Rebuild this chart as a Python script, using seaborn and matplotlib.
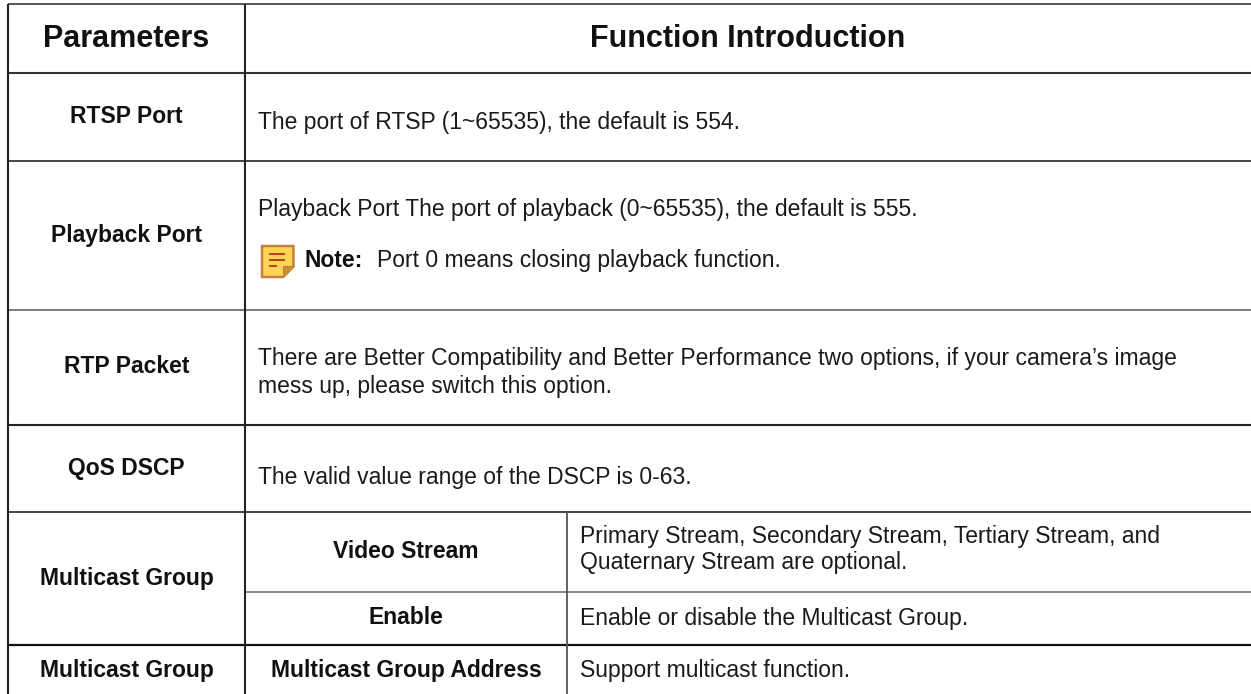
import matplotlib.pyplot as plt
import seaborn as sns
from matplotlib.patches import Polygon, Rectangle

# Table text, column by column
headers = ["Parameters", "Function Introduction"]
param_labels = ["RTSP Port", "Playback Port", "RTP Packet", "QoS DSCP", "Multicast Group", "Multicast Group"]
sub_labels = ["Video Stream", "Enable", "Multicast Group Address"]
sub_texts = [
    "Primary Stream, Secondary Stream, Tertiary Stream, and",
    "Quaternary Stream are optional.",
    "Enable or disable the Multicast Group.",
    "Support multicast function.",
]
body_texts = [
    "The port of RTSP (1~65535), the default is 554.",
    "Playback Port The port of playback (0~65535), the default is 555.",
    "There are Better Compatibility and Better Performance two options, if your camera\u2019s image",
    "mess up, please switch this option.",
    "The valid value range of the DSCP is 0-63.",
]
note_label = "Note:"
note_text = "Port 0 means closing playback function."

# Grid positions in image pixels
col_x = [8, 245, 567]
row_y = [4, 73, 161, 310, 425, 512, 592, 645]
param_y = [116, 235, 366.5, 468, 578, 671]
sub_y = [551, 618, 671]
sub_text_y = [536, 563, 618, 670]
body_y = [122, 209, 358, 386, 477]

sns.set_theme(style="white")
plt.rcParams["font.family"] = ["Liberation Sans", "DejaVu Sans"]

fig = plt.figure(figsize=(12.51, 6.94), dpi=100)
ax = fig.add_axes([0, 0, 1, 1])
ax.set_xlim(0, 1251)
ax.set_ylim(694, 0)
ax.axis("off")

# Horizontal rules
ax.hlines(row_y[0], col_x[0], 1251, color="#555555", lw=1.4)
ax.hlines(row_y[1], col_x[0], 1251, color="#333333", lw=1.5)
ax.hlines(row_y[2], col_x[0], 1251, color="#444444", lw=1.4)
ax.hlines(row_y[3], col_x[0], 1251, color="#666666", lw=1.2)
ax.hlines(row_y[4], col_x[0], 1251, color="#222222", lw=1.5)
ax.hlines(row_y[5], col_x[0], 1251, color="#444444", lw=1.4)
ax.hlines(row_y[6], col_x[1], 1251, color="#777777", lw=1.2)
ax.hlines(row_y[7], col_x[0], 1251, color="#111111", lw=1.6)

# Vertical rules
ax.vlines(col_x[0], row_y[0], 694, color="#222222", lw=1.5)
ax.vlines(col_x[1], row_y[0], 694, color="#222222", lw=1.5)
ax.vlines(col_x[2], row_y[5], 694, color="#555555", lw=1.3)

# Header
ax.text(126.5, 39, headers[0], fontsize=22, fontweight="bold", color="#111111", ha="center", va="center")
ax.text(748, 39, headers[1], fontsize=22, fontweight="bold", color="#111111", ha="center", va="center")

# First column
for label, y in zip(param_labels, param_y):
    ax.text(126.5, y, label, fontsize=16.5, fontweight="bold", color="#111111", ha="center", va="center")

# Middle column of the multicast rows
for label, y in zip(sub_labels, sub_y):
    ax.text(406, y, label, fontsize=16.5, fontweight="bold", color="#111111", ha="center", va="center")

# Body text
for line, y in zip(body_texts, body_y):
    ax.text(258, y, line, fontsize=16.5, color="#1a1a1a", ha="left", va="center")
for line, y in zip(sub_texts, sub_text_y):
    ax.text(580, y, line, fontsize=16.5, color="#1a1a1a", ha="left", va="center")

# Note line with its icon
ax.add_patch(Polygon([(262, 246), (293.5, 246), (293.5, 266), (283, 277), (262, 277)],
                     facecolor="#ffd456", edgecolor="#c6803f", lw=1.8))
ax.add_patch(Polygon([(283, 277), (283, 266), (293.5, 266)], facecolor="#c8912a", edgecolor="#c6803f", lw=0.8))
for y0, w in [(253.5, 16), (259.5, 16), (265.5, 8)]:
    ax.add_patch(Rectangle((269, y0 - 1), w, 2, facecolor="#b5451c", edgecolor="none"))
ax.text(304, 260, note_label, fontsize=16.5, fontweight="bold", color="#111111", ha="left", va="center")
ax.text(377, 260, note_text, fontsize=16.5, color="#1a1a1a", ha="left", va="center")

fig.savefig("out.png", dpi=100)
